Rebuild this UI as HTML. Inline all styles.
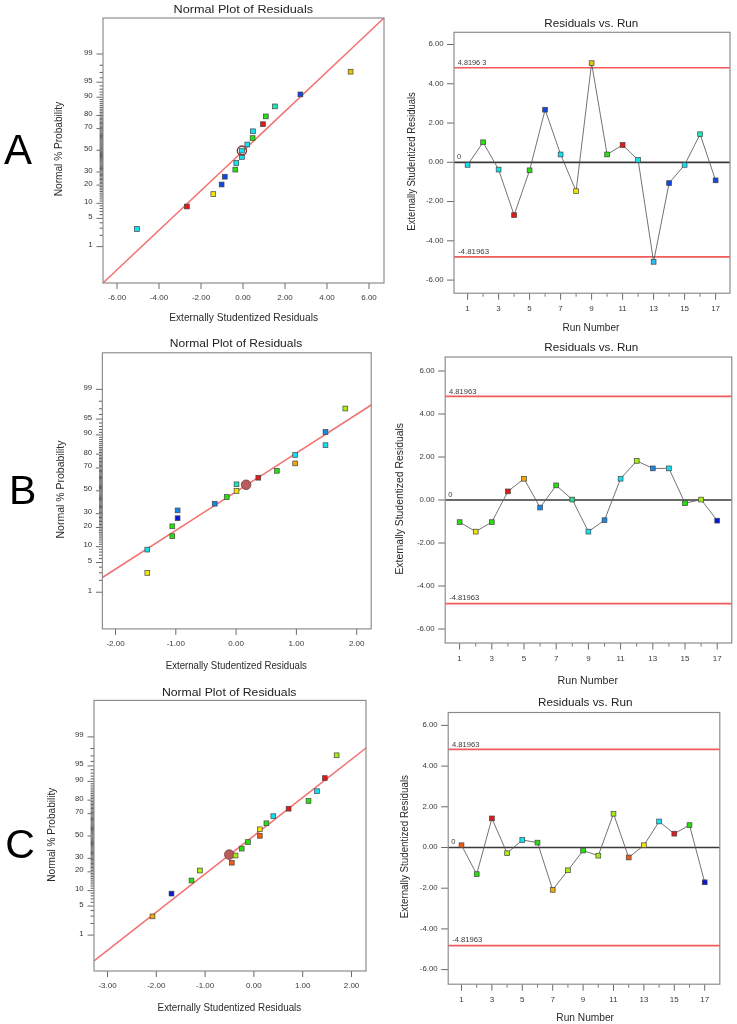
<!DOCTYPE html>
<html><head><meta charset="utf-8"><style>
html,body{margin:0;padding:0;background:#fff;}
svg{display:block;filter:blur(0.5px);}
</style></head><body>
<svg width="737" height="1024" viewBox="0 0 737 1024" font-family="Liberation Sans, sans-serif" style="font-family:'Liberation Sans',sans-serif">
<rect x="0" y="0" width="737" height="1024" fill="#ffffff"/>
<line x1="96.5" y1="246.61" x2="103" y2="246.61" stroke="#6a6a6a" stroke-width="1"/>
<text x="92.7" y="247.1" font-size="7.8" text-anchor="end" fill="#333" >1</text>
<line x1="99.6" y1="235.33" x2="103" y2="235.33" stroke="#4a4a4a" stroke-width="0.9"/>
<line x1="99.6" y1="228.16" x2="103" y2="228.16" stroke="#4a4a4a" stroke-width="0.9"/>
<line x1="99.6" y1="222.78" x2="103" y2="222.78" stroke="#4a4a4a" stroke-width="0.9"/>
<line x1="96.5" y1="218.40" x2="103" y2="218.40" stroke="#6a6a6a" stroke-width="1"/>
<text x="92.7" y="218.9" font-size="7.8" text-anchor="end" fill="#333" >5</text>
<line x1="99.6" y1="214.67" x2="103" y2="214.67" stroke="#4a4a4a" stroke-width="0.9"/>
<line x1="99.6" y1="211.40" x2="103" y2="211.40" stroke="#4a4a4a" stroke-width="0.9"/>
<line x1="99.6" y1="208.47" x2="103" y2="208.47" stroke="#4a4a4a" stroke-width="0.9"/>
<line x1="99.6" y1="205.81" x2="103" y2="205.81" stroke="#4a4a4a" stroke-width="0.9"/>
<line x1="96.5" y1="203.36" x2="103" y2="203.36" stroke="#6a6a6a" stroke-width="1"/>
<text x="92.7" y="203.9" font-size="7.8" text-anchor="end" fill="#333" >10</text>
<line x1="99.6" y1="201.08" x2="103" y2="201.08" stroke="#4a4a4a" stroke-width="0.9"/>
<line x1="99.6" y1="198.94" x2="103" y2="198.94" stroke="#4a4a4a" stroke-width="0.9"/>
<line x1="99.6" y1="196.93" x2="103" y2="196.93" stroke="#4a4a4a" stroke-width="0.9"/>
<line x1="99.6" y1="195.03" x2="103" y2="195.03" stroke="#4a4a4a" stroke-width="0.9"/>
<line x1="99.6" y1="193.21" x2="103" y2="193.21" stroke="#4a4a4a" stroke-width="0.9"/>
<line x1="99.6" y1="191.47" x2="103" y2="191.47" stroke="#4a4a4a" stroke-width="0.9"/>
<line x1="99.6" y1="189.80" x2="103" y2="189.80" stroke="#4a4a4a" stroke-width="0.9"/>
<line x1="99.6" y1="188.20" x2="103" y2="188.20" stroke="#4a4a4a" stroke-width="0.9"/>
<line x1="99.6" y1="186.64" x2="103" y2="186.64" stroke="#4a4a4a" stroke-width="0.9"/>
<line x1="96.5" y1="185.14" x2="103" y2="185.14" stroke="#6a6a6a" stroke-width="1"/>
<text x="92.7" y="185.6" font-size="7.8" text-anchor="end" fill="#333" >20</text>
<line x1="99.6" y1="183.69" x2="103" y2="183.69" stroke="#4a4a4a" stroke-width="0.9"/>
<line x1="99.6" y1="182.27" x2="103" y2="182.27" stroke="#4a4a4a" stroke-width="0.9"/>
<line x1="99.6" y1="180.89" x2="103" y2="180.89" stroke="#4a4a4a" stroke-width="0.9"/>
<line x1="99.6" y1="179.54" x2="103" y2="179.54" stroke="#4a4a4a" stroke-width="0.9"/>
<line x1="99.6" y1="178.22" x2="103" y2="178.22" stroke="#4a4a4a" stroke-width="0.9"/>
<line x1="99.6" y1="176.93" x2="103" y2="176.93" stroke="#4a4a4a" stroke-width="0.9"/>
<line x1="99.6" y1="175.67" x2="103" y2="175.67" stroke="#4a4a4a" stroke-width="0.9"/>
<line x1="99.6" y1="174.43" x2="103" y2="174.43" stroke="#4a4a4a" stroke-width="0.9"/>
<line x1="99.6" y1="173.21" x2="103" y2="173.21" stroke="#4a4a4a" stroke-width="0.9"/>
<line x1="96.5" y1="172.01" x2="103" y2="172.01" stroke="#6a6a6a" stroke-width="1"/>
<text x="92.7" y="172.5" font-size="7.8" text-anchor="end" fill="#333" >30</text>
<line x1="99.6" y1="170.83" x2="103" y2="170.83" stroke="#4a4a4a" stroke-width="0.9"/>
<line x1="99.6" y1="169.66" x2="103" y2="169.66" stroke="#4a4a4a" stroke-width="0.9"/>
<line x1="99.6" y1="168.51" x2="103" y2="168.51" stroke="#4a4a4a" stroke-width="0.9"/>
<line x1="99.6" y1="167.38" x2="103" y2="167.38" stroke="#4a4a4a" stroke-width="0.9"/>
<line x1="99.6" y1="166.25" x2="103" y2="166.25" stroke="#4a4a4a" stroke-width="0.9"/>
<line x1="99.6" y1="165.14" x2="103" y2="165.14" stroke="#4a4a4a" stroke-width="0.9"/>
<line x1="99.6" y1="164.04" x2="103" y2="164.04" stroke="#4a4a4a" stroke-width="0.9"/>
<line x1="99.6" y1="162.95" x2="103" y2="162.95" stroke="#4a4a4a" stroke-width="0.9"/>
<line x1="99.6" y1="161.86" x2="103" y2="161.86" stroke="#4a4a4a" stroke-width="0.9"/>
<line x1="99.6" y1="160.79" x2="103" y2="160.79" stroke="#4a4a4a" stroke-width="0.9"/>
<line x1="99.6" y1="159.72" x2="103" y2="159.72" stroke="#4a4a4a" stroke-width="0.9"/>
<line x1="99.6" y1="158.66" x2="103" y2="158.66" stroke="#4a4a4a" stroke-width="0.9"/>
<line x1="99.6" y1="157.60" x2="103" y2="157.60" stroke="#4a4a4a" stroke-width="0.9"/>
<line x1="99.6" y1="156.55" x2="103" y2="156.55" stroke="#4a4a4a" stroke-width="0.9"/>
<line x1="99.6" y1="155.50" x2="103" y2="155.50" stroke="#4a4a4a" stroke-width="0.9"/>
<line x1="99.6" y1="154.46" x2="103" y2="154.46" stroke="#4a4a4a" stroke-width="0.9"/>
<line x1="99.6" y1="153.42" x2="103" y2="153.42" stroke="#4a4a4a" stroke-width="0.9"/>
<line x1="99.6" y1="152.38" x2="103" y2="152.38" stroke="#4a4a4a" stroke-width="0.9"/>
<line x1="99.6" y1="151.34" x2="103" y2="151.34" stroke="#4a4a4a" stroke-width="0.9"/>
<line x1="96.5" y1="150.30" x2="103" y2="150.30" stroke="#6a6a6a" stroke-width="1"/>
<text x="92.7" y="150.8" font-size="7.8" text-anchor="end" fill="#333" >50</text>
<line x1="99.6" y1="149.26" x2="103" y2="149.26" stroke="#4a4a4a" stroke-width="0.9"/>
<line x1="99.6" y1="148.22" x2="103" y2="148.22" stroke="#4a4a4a" stroke-width="0.9"/>
<line x1="99.6" y1="147.18" x2="103" y2="147.18" stroke="#4a4a4a" stroke-width="0.9"/>
<line x1="99.6" y1="146.14" x2="103" y2="146.14" stroke="#4a4a4a" stroke-width="0.9"/>
<line x1="99.6" y1="145.10" x2="103" y2="145.10" stroke="#4a4a4a" stroke-width="0.9"/>
<line x1="99.6" y1="144.05" x2="103" y2="144.05" stroke="#4a4a4a" stroke-width="0.9"/>
<line x1="99.6" y1="143.00" x2="103" y2="143.00" stroke="#4a4a4a" stroke-width="0.9"/>
<line x1="99.6" y1="141.94" x2="103" y2="141.94" stroke="#4a4a4a" stroke-width="0.9"/>
<line x1="99.6" y1="140.88" x2="103" y2="140.88" stroke="#4a4a4a" stroke-width="0.9"/>
<line x1="99.6" y1="139.81" x2="103" y2="139.81" stroke="#4a4a4a" stroke-width="0.9"/>
<line x1="99.6" y1="138.74" x2="103" y2="138.74" stroke="#4a4a4a" stroke-width="0.9"/>
<line x1="99.6" y1="137.65" x2="103" y2="137.65" stroke="#4a4a4a" stroke-width="0.9"/>
<line x1="99.6" y1="136.56" x2="103" y2="136.56" stroke="#4a4a4a" stroke-width="0.9"/>
<line x1="99.6" y1="135.46" x2="103" y2="135.46" stroke="#4a4a4a" stroke-width="0.9"/>
<line x1="99.6" y1="134.35" x2="103" y2="134.35" stroke="#4a4a4a" stroke-width="0.9"/>
<line x1="99.6" y1="133.22" x2="103" y2="133.22" stroke="#4a4a4a" stroke-width="0.9"/>
<line x1="99.6" y1="132.09" x2="103" y2="132.09" stroke="#4a4a4a" stroke-width="0.9"/>
<line x1="99.6" y1="130.94" x2="103" y2="130.94" stroke="#4a4a4a" stroke-width="0.9"/>
<line x1="99.6" y1="129.77" x2="103" y2="129.77" stroke="#4a4a4a" stroke-width="0.9"/>
<line x1="96.5" y1="128.59" x2="103" y2="128.59" stroke="#6a6a6a" stroke-width="1"/>
<text x="92.7" y="129.1" font-size="7.8" text-anchor="end" fill="#333" >70</text>
<line x1="99.6" y1="127.39" x2="103" y2="127.39" stroke="#4a4a4a" stroke-width="0.9"/>
<line x1="99.6" y1="126.17" x2="103" y2="126.17" stroke="#4a4a4a" stroke-width="0.9"/>
<line x1="99.6" y1="124.93" x2="103" y2="124.93" stroke="#4a4a4a" stroke-width="0.9"/>
<line x1="99.6" y1="123.67" x2="103" y2="123.67" stroke="#4a4a4a" stroke-width="0.9"/>
<line x1="99.6" y1="122.38" x2="103" y2="122.38" stroke="#4a4a4a" stroke-width="0.9"/>
<line x1="99.6" y1="121.06" x2="103" y2="121.06" stroke="#4a4a4a" stroke-width="0.9"/>
<line x1="99.6" y1="119.71" x2="103" y2="119.71" stroke="#4a4a4a" stroke-width="0.9"/>
<line x1="99.6" y1="118.33" x2="103" y2="118.33" stroke="#4a4a4a" stroke-width="0.9"/>
<line x1="99.6" y1="116.91" x2="103" y2="116.91" stroke="#4a4a4a" stroke-width="0.9"/>
<line x1="96.5" y1="115.46" x2="103" y2="115.46" stroke="#6a6a6a" stroke-width="1"/>
<text x="92.7" y="116.0" font-size="7.8" text-anchor="end" fill="#333" >80</text>
<line x1="99.6" y1="113.96" x2="103" y2="113.96" stroke="#4a4a4a" stroke-width="0.9"/>
<line x1="99.6" y1="112.40" x2="103" y2="112.40" stroke="#4a4a4a" stroke-width="0.9"/>
<line x1="99.6" y1="110.80" x2="103" y2="110.80" stroke="#4a4a4a" stroke-width="0.9"/>
<line x1="99.6" y1="109.13" x2="103" y2="109.13" stroke="#4a4a4a" stroke-width="0.9"/>
<line x1="99.6" y1="107.39" x2="103" y2="107.39" stroke="#4a4a4a" stroke-width="0.9"/>
<line x1="99.6" y1="105.57" x2="103" y2="105.57" stroke="#4a4a4a" stroke-width="0.9"/>
<line x1="99.6" y1="103.67" x2="103" y2="103.67" stroke="#4a4a4a" stroke-width="0.9"/>
<line x1="99.6" y1="101.66" x2="103" y2="101.66" stroke="#4a4a4a" stroke-width="0.9"/>
<line x1="99.6" y1="99.52" x2="103" y2="99.52" stroke="#4a4a4a" stroke-width="0.9"/>
<line x1="96.5" y1="97.24" x2="103" y2="97.24" stroke="#6a6a6a" stroke-width="1"/>
<text x="92.7" y="97.7" font-size="7.8" text-anchor="end" fill="#333" >90</text>
<line x1="99.6" y1="94.79" x2="103" y2="94.79" stroke="#4a4a4a" stroke-width="0.9"/>
<line x1="99.6" y1="92.13" x2="103" y2="92.13" stroke="#4a4a4a" stroke-width="0.9"/>
<line x1="99.6" y1="89.20" x2="103" y2="89.20" stroke="#4a4a4a" stroke-width="0.9"/>
<line x1="99.6" y1="85.93" x2="103" y2="85.93" stroke="#4a4a4a" stroke-width="0.9"/>
<line x1="96.5" y1="82.20" x2="103" y2="82.20" stroke="#6a6a6a" stroke-width="1"/>
<text x="92.7" y="82.7" font-size="7.8" text-anchor="end" fill="#333" >95</text>
<line x1="99.6" y1="77.82" x2="103" y2="77.82" stroke="#4a4a4a" stroke-width="0.9"/>
<line x1="99.6" y1="72.44" x2="103" y2="72.44" stroke="#4a4a4a" stroke-width="0.9"/>
<line x1="99.6" y1="65.27" x2="103" y2="65.27" stroke="#4a4a4a" stroke-width="0.9"/>
<line x1="96.5" y1="53.99" x2="103" y2="53.99" stroke="#6a6a6a" stroke-width="1"/>
<text x="92.7" y="54.5" font-size="7.8" text-anchor="end" fill="#333" >99</text>
<line x1="117.0" y1="283" x2="117.0" y2="289" stroke="#6a6a6a" stroke-width="1"/>
<text x="117.0" y="299.8" font-size="8.0" text-anchor="middle" fill="#3a3a3a" >-6.00</text>
<line x1="159.0" y1="283" x2="159.0" y2="289" stroke="#6a6a6a" stroke-width="1"/>
<text x="159.0" y="299.8" font-size="8.0" text-anchor="middle" fill="#3a3a3a" >-4.00</text>
<line x1="201.0" y1="283" x2="201.0" y2="289" stroke="#6a6a6a" stroke-width="1"/>
<text x="201.0" y="299.8" font-size="8.0" text-anchor="middle" fill="#3a3a3a" >-2.00</text>
<line x1="243.0" y1="283" x2="243.0" y2="289" stroke="#6a6a6a" stroke-width="1"/>
<text x="243.0" y="299.8" font-size="8.0" text-anchor="middle" fill="#3a3a3a" >0.00</text>
<line x1="285.0" y1="283" x2="285.0" y2="289" stroke="#6a6a6a" stroke-width="1"/>
<text x="285.0" y="299.8" font-size="8.0" text-anchor="middle" fill="#3a3a3a" >2.00</text>
<line x1="327.0" y1="283" x2="327.0" y2="289" stroke="#6a6a6a" stroke-width="1"/>
<text x="327.0" y="299.8" font-size="8.0" text-anchor="middle" fill="#3a3a3a" >4.00</text>
<line x1="369.0" y1="283" x2="369.0" y2="289" stroke="#6a6a6a" stroke-width="1"/>
<text x="369.0" y="299.8" font-size="8.0" text-anchor="middle" fill="#3a3a3a" >6.00</text>
<svg x="103" y="18" width="281" height="265" viewBox="103 18 281 265" overflow="hidden">
<line x1="103" y1="283" x2="384" y2="18" stroke="#f27272" stroke-width="1.5"/>
</svg>
<rect x="103" y="18" width="281" height="265" fill="none" stroke="#8a8a8a" stroke-width="1.15"/>
<rect x="134.50" y="226.60" width="4.8" height="4.8" fill="#10e0f0" stroke="#444" stroke-width="0.7"/>
<rect x="184.50" y="204.10" width="4.8" height="4.8" fill="#e41818" stroke="#444" stroke-width="0.7"/>
<rect x="210.90" y="191.70" width="4.8" height="4.8" fill="#f2e400" stroke="#444" stroke-width="0.7"/>
<rect x="219.20" y="182.10" width="4.8" height="4.8" fill="#1048e0" stroke="#444" stroke-width="0.7"/>
<rect x="222.40" y="174.30" width="4.8" height="4.8" fill="#1048e0" stroke="#444" stroke-width="0.7"/>
<rect x="232.90" y="167.20" width="4.8" height="4.8" fill="#28e010" stroke="#444" stroke-width="0.7"/>
<rect x="233.90" y="160.60" width="4.8" height="4.8" fill="#10e0f0" stroke="#444" stroke-width="0.7"/>
<rect x="239.50" y="154.50" width="4.8" height="4.8" fill="#10e0f0" stroke="#444" stroke-width="0.7"/>
<rect x="239.50" y="148.20" width="4.8" height="4.8" fill="#10e0f0" stroke="#444" stroke-width="0.7"/>
<rect x="244.90" y="142.10" width="4.8" height="4.8" fill="#10e0f0" stroke="#444" stroke-width="0.7"/>
<rect x="250.20" y="135.70" width="4.8" height="4.8" fill="#28e010" stroke="#444" stroke-width="0.7"/>
<rect x="250.50" y="128.90" width="4.8" height="4.8" fill="#10e0f0" stroke="#444" stroke-width="0.7"/>
<rect x="260.50" y="121.80" width="4.8" height="4.8" fill="#e41818" stroke="#444" stroke-width="0.7"/>
<rect x="263.40" y="114.00" width="4.8" height="4.8" fill="#28e010" stroke="#444" stroke-width="0.7"/>
<rect x="272.50" y="104.00" width="4.8" height="4.8" fill="#20e4b8" stroke="#444" stroke-width="0.7"/>
<rect x="298.00" y="92.00" width="4.8" height="4.8" fill="#1048e0" stroke="#444" stroke-width="0.7"/>
<rect x="348.20" y="69.30" width="4.8" height="4.8" fill="#e8c400" stroke="#444" stroke-width="0.7"/>
<circle cx="241.9" cy="150.6" r="4.6" fill="none" stroke="#7a2a2a" stroke-width="1.3"/>
<text x="173.5" y="13.2" font-size="11.4" text-anchor="start" fill="#222" textLength="139.6" lengthAdjust="spacingAndGlyphs" >Normal Plot of Residuals</text>
<text x="169.2" y="320.7" font-size="10.2" text-anchor="start" fill="#2a2a2a" textLength="148.8" lengthAdjust="spacingAndGlyphs" >Externally Studentized Residuals</text>
<text transform="translate(62.2,196.3) rotate(-90)" x="0" y="0" font-size="10" fill="#2a2a2a" textLength="94.5" lengthAdjust="spacingAndGlyphs">Normal % Probability</text>
<line x1="95.9" y1="592.23" x2="102.4" y2="592.23" stroke="#6a6a6a" stroke-width="1"/>
<text x="92.1" y="592.7" font-size="7.8" text-anchor="end" fill="#333" >1</text>
<line x1="99.0" y1="580.34" x2="102.4" y2="580.34" stroke="#4a4a4a" stroke-width="0.9"/>
<line x1="99.0" y1="572.80" x2="102.4" y2="572.80" stroke="#4a4a4a" stroke-width="0.9"/>
<line x1="99.0" y1="567.13" x2="102.4" y2="567.13" stroke="#4a4a4a" stroke-width="0.9"/>
<line x1="95.9" y1="562.52" x2="102.4" y2="562.52" stroke="#6a6a6a" stroke-width="1"/>
<text x="92.1" y="563.0" font-size="7.8" text-anchor="end" fill="#333" >5</text>
<line x1="99.0" y1="558.59" x2="102.4" y2="558.59" stroke="#4a4a4a" stroke-width="0.9"/>
<line x1="99.0" y1="555.14" x2="102.4" y2="555.14" stroke="#4a4a4a" stroke-width="0.9"/>
<line x1="99.0" y1="552.06" x2="102.4" y2="552.06" stroke="#4a4a4a" stroke-width="0.9"/>
<line x1="99.0" y1="549.26" x2="102.4" y2="549.26" stroke="#4a4a4a" stroke-width="0.9"/>
<line x1="95.9" y1="546.68" x2="102.4" y2="546.68" stroke="#6a6a6a" stroke-width="1"/>
<text x="92.1" y="547.2" font-size="7.8" text-anchor="end" fill="#333" >10</text>
<line x1="99.0" y1="544.28" x2="102.4" y2="544.28" stroke="#4a4a4a" stroke-width="0.9"/>
<line x1="99.0" y1="542.03" x2="102.4" y2="542.03" stroke="#4a4a4a" stroke-width="0.9"/>
<line x1="99.0" y1="539.91" x2="102.4" y2="539.91" stroke="#4a4a4a" stroke-width="0.9"/>
<line x1="99.0" y1="537.90" x2="102.4" y2="537.90" stroke="#4a4a4a" stroke-width="0.9"/>
<line x1="99.0" y1="535.99" x2="102.4" y2="535.99" stroke="#4a4a4a" stroke-width="0.9"/>
<line x1="99.0" y1="534.16" x2="102.4" y2="534.16" stroke="#4a4a4a" stroke-width="0.9"/>
<line x1="99.0" y1="532.40" x2="102.4" y2="532.40" stroke="#4a4a4a" stroke-width="0.9"/>
<line x1="99.0" y1="530.71" x2="102.4" y2="530.71" stroke="#4a4a4a" stroke-width="0.9"/>
<line x1="99.0" y1="529.08" x2="102.4" y2="529.08" stroke="#4a4a4a" stroke-width="0.9"/>
<line x1="95.9" y1="527.49" x2="102.4" y2="527.49" stroke="#6a6a6a" stroke-width="1"/>
<text x="92.1" y="528.0" font-size="7.8" text-anchor="end" fill="#333" >20</text>
<line x1="99.0" y1="525.96" x2="102.4" y2="525.96" stroke="#4a4a4a" stroke-width="0.9"/>
<line x1="99.0" y1="524.47" x2="102.4" y2="524.47" stroke="#4a4a4a" stroke-width="0.9"/>
<line x1="99.0" y1="523.01" x2="102.4" y2="523.01" stroke="#4a4a4a" stroke-width="0.9"/>
<line x1="99.0" y1="521.59" x2="102.4" y2="521.59" stroke="#4a4a4a" stroke-width="0.9"/>
<line x1="99.0" y1="520.21" x2="102.4" y2="520.21" stroke="#4a4a4a" stroke-width="0.9"/>
<line x1="99.0" y1="518.85" x2="102.4" y2="518.85" stroke="#4a4a4a" stroke-width="0.9"/>
<line x1="99.0" y1="517.52" x2="102.4" y2="517.52" stroke="#4a4a4a" stroke-width="0.9"/>
<line x1="99.0" y1="516.21" x2="102.4" y2="516.21" stroke="#4a4a4a" stroke-width="0.9"/>
<line x1="99.0" y1="514.93" x2="102.4" y2="514.93" stroke="#4a4a4a" stroke-width="0.9"/>
<line x1="95.9" y1="513.66" x2="102.4" y2="513.66" stroke="#6a6a6a" stroke-width="1"/>
<text x="92.1" y="514.2" font-size="7.8" text-anchor="end" fill="#333" >30</text>
<line x1="99.0" y1="512.42" x2="102.4" y2="512.42" stroke="#4a4a4a" stroke-width="0.9"/>
<line x1="99.0" y1="511.19" x2="102.4" y2="511.19" stroke="#4a4a4a" stroke-width="0.9"/>
<line x1="99.0" y1="509.98" x2="102.4" y2="509.98" stroke="#4a4a4a" stroke-width="0.9"/>
<line x1="99.0" y1="508.78" x2="102.4" y2="508.78" stroke="#4a4a4a" stroke-width="0.9"/>
<line x1="99.0" y1="507.60" x2="102.4" y2="507.60" stroke="#4a4a4a" stroke-width="0.9"/>
<line x1="99.0" y1="506.43" x2="102.4" y2="506.43" stroke="#4a4a4a" stroke-width="0.9"/>
<line x1="99.0" y1="505.27" x2="102.4" y2="505.27" stroke="#4a4a4a" stroke-width="0.9"/>
<line x1="99.0" y1="504.12" x2="102.4" y2="504.12" stroke="#4a4a4a" stroke-width="0.9"/>
<line x1="99.0" y1="502.98" x2="102.4" y2="502.98" stroke="#4a4a4a" stroke-width="0.9"/>
<line x1="99.0" y1="501.85" x2="102.4" y2="501.85" stroke="#4a4a4a" stroke-width="0.9"/>
<line x1="99.0" y1="500.72" x2="102.4" y2="500.72" stroke="#4a4a4a" stroke-width="0.9"/>
<line x1="99.0" y1="499.60" x2="102.4" y2="499.60" stroke="#4a4a4a" stroke-width="0.9"/>
<line x1="99.0" y1="498.49" x2="102.4" y2="498.49" stroke="#4a4a4a" stroke-width="0.9"/>
<line x1="99.0" y1="497.38" x2="102.4" y2="497.38" stroke="#4a4a4a" stroke-width="0.9"/>
<line x1="99.0" y1="496.28" x2="102.4" y2="496.28" stroke="#4a4a4a" stroke-width="0.9"/>
<line x1="99.0" y1="495.18" x2="102.4" y2="495.18" stroke="#4a4a4a" stroke-width="0.9"/>
<line x1="99.0" y1="494.08" x2="102.4" y2="494.08" stroke="#4a4a4a" stroke-width="0.9"/>
<line x1="99.0" y1="492.99" x2="102.4" y2="492.99" stroke="#4a4a4a" stroke-width="0.9"/>
<line x1="99.0" y1="491.89" x2="102.4" y2="491.89" stroke="#4a4a4a" stroke-width="0.9"/>
<line x1="95.9" y1="490.80" x2="102.4" y2="490.80" stroke="#6a6a6a" stroke-width="1"/>
<text x="92.1" y="491.3" font-size="7.8" text-anchor="end" fill="#333" >50</text>
<line x1="99.0" y1="489.71" x2="102.4" y2="489.71" stroke="#4a4a4a" stroke-width="0.9"/>
<line x1="99.0" y1="488.61" x2="102.4" y2="488.61" stroke="#4a4a4a" stroke-width="0.9"/>
<line x1="99.0" y1="487.52" x2="102.4" y2="487.52" stroke="#4a4a4a" stroke-width="0.9"/>
<line x1="99.0" y1="486.42" x2="102.4" y2="486.42" stroke="#4a4a4a" stroke-width="0.9"/>
<line x1="99.0" y1="485.32" x2="102.4" y2="485.32" stroke="#4a4a4a" stroke-width="0.9"/>
<line x1="99.0" y1="484.22" x2="102.4" y2="484.22" stroke="#4a4a4a" stroke-width="0.9"/>
<line x1="99.0" y1="483.11" x2="102.4" y2="483.11" stroke="#4a4a4a" stroke-width="0.9"/>
<line x1="99.0" y1="482.00" x2="102.4" y2="482.00" stroke="#4a4a4a" stroke-width="0.9"/>
<line x1="99.0" y1="480.88" x2="102.4" y2="480.88" stroke="#4a4a4a" stroke-width="0.9"/>
<line x1="99.0" y1="479.75" x2="102.4" y2="479.75" stroke="#4a4a4a" stroke-width="0.9"/>
<line x1="99.0" y1="478.62" x2="102.4" y2="478.62" stroke="#4a4a4a" stroke-width="0.9"/>
<line x1="99.0" y1="477.48" x2="102.4" y2="477.48" stroke="#4a4a4a" stroke-width="0.9"/>
<line x1="99.0" y1="476.33" x2="102.4" y2="476.33" stroke="#4a4a4a" stroke-width="0.9"/>
<line x1="99.0" y1="475.17" x2="102.4" y2="475.17" stroke="#4a4a4a" stroke-width="0.9"/>
<line x1="99.0" y1="474.00" x2="102.4" y2="474.00" stroke="#4a4a4a" stroke-width="0.9"/>
<line x1="99.0" y1="472.82" x2="102.4" y2="472.82" stroke="#4a4a4a" stroke-width="0.9"/>
<line x1="99.0" y1="471.62" x2="102.4" y2="471.62" stroke="#4a4a4a" stroke-width="0.9"/>
<line x1="99.0" y1="470.41" x2="102.4" y2="470.41" stroke="#4a4a4a" stroke-width="0.9"/>
<line x1="99.0" y1="469.18" x2="102.4" y2="469.18" stroke="#4a4a4a" stroke-width="0.9"/>
<line x1="95.9" y1="467.94" x2="102.4" y2="467.94" stroke="#6a6a6a" stroke-width="1"/>
<text x="92.1" y="468.4" font-size="7.8" text-anchor="end" fill="#333" >70</text>
<line x1="99.0" y1="466.67" x2="102.4" y2="466.67" stroke="#4a4a4a" stroke-width="0.9"/>
<line x1="99.0" y1="465.39" x2="102.4" y2="465.39" stroke="#4a4a4a" stroke-width="0.9"/>
<line x1="99.0" y1="464.08" x2="102.4" y2="464.08" stroke="#4a4a4a" stroke-width="0.9"/>
<line x1="99.0" y1="462.75" x2="102.4" y2="462.75" stroke="#4a4a4a" stroke-width="0.9"/>
<line x1="99.0" y1="461.39" x2="102.4" y2="461.39" stroke="#4a4a4a" stroke-width="0.9"/>
<line x1="99.0" y1="460.01" x2="102.4" y2="460.01" stroke="#4a4a4a" stroke-width="0.9"/>
<line x1="99.0" y1="458.59" x2="102.4" y2="458.59" stroke="#4a4a4a" stroke-width="0.9"/>
<line x1="99.0" y1="457.13" x2="102.4" y2="457.13" stroke="#4a4a4a" stroke-width="0.9"/>
<line x1="99.0" y1="455.64" x2="102.4" y2="455.64" stroke="#4a4a4a" stroke-width="0.9"/>
<line x1="95.9" y1="454.11" x2="102.4" y2="454.11" stroke="#6a6a6a" stroke-width="1"/>
<text x="92.1" y="454.6" font-size="7.8" text-anchor="end" fill="#333" >80</text>
<line x1="99.0" y1="452.52" x2="102.4" y2="452.52" stroke="#4a4a4a" stroke-width="0.9"/>
<line x1="99.0" y1="450.89" x2="102.4" y2="450.89" stroke="#4a4a4a" stroke-width="0.9"/>
<line x1="99.0" y1="449.20" x2="102.4" y2="449.20" stroke="#4a4a4a" stroke-width="0.9"/>
<line x1="99.0" y1="447.44" x2="102.4" y2="447.44" stroke="#4a4a4a" stroke-width="0.9"/>
<line x1="99.0" y1="445.61" x2="102.4" y2="445.61" stroke="#4a4a4a" stroke-width="0.9"/>
<line x1="99.0" y1="443.70" x2="102.4" y2="443.70" stroke="#4a4a4a" stroke-width="0.9"/>
<line x1="99.0" y1="441.69" x2="102.4" y2="441.69" stroke="#4a4a4a" stroke-width="0.9"/>
<line x1="99.0" y1="439.57" x2="102.4" y2="439.57" stroke="#4a4a4a" stroke-width="0.9"/>
<line x1="99.0" y1="437.32" x2="102.4" y2="437.32" stroke="#4a4a4a" stroke-width="0.9"/>
<line x1="95.9" y1="434.92" x2="102.4" y2="434.92" stroke="#6a6a6a" stroke-width="1"/>
<text x="92.1" y="435.4" font-size="7.8" text-anchor="end" fill="#333" >90</text>
<line x1="99.0" y1="432.34" x2="102.4" y2="432.34" stroke="#4a4a4a" stroke-width="0.9"/>
<line x1="99.0" y1="429.54" x2="102.4" y2="429.54" stroke="#4a4a4a" stroke-width="0.9"/>
<line x1="99.0" y1="426.46" x2="102.4" y2="426.46" stroke="#4a4a4a" stroke-width="0.9"/>
<line x1="99.0" y1="423.01" x2="102.4" y2="423.01" stroke="#4a4a4a" stroke-width="0.9"/>
<line x1="95.9" y1="419.08" x2="102.4" y2="419.08" stroke="#6a6a6a" stroke-width="1"/>
<text x="92.1" y="419.6" font-size="7.8" text-anchor="end" fill="#333" >95</text>
<line x1="99.0" y1="414.47" x2="102.4" y2="414.47" stroke="#4a4a4a" stroke-width="0.9"/>
<line x1="99.0" y1="408.80" x2="102.4" y2="408.80" stroke="#4a4a4a" stroke-width="0.9"/>
<line x1="99.0" y1="401.26" x2="102.4" y2="401.26" stroke="#4a4a4a" stroke-width="0.9"/>
<line x1="95.9" y1="389.37" x2="102.4" y2="389.37" stroke="#6a6a6a" stroke-width="1"/>
<text x="92.1" y="389.9" font-size="7.8" text-anchor="end" fill="#333" >99</text>
<line x1="115.5" y1="628.9" x2="115.5" y2="634.9" stroke="#6a6a6a" stroke-width="1"/>
<text x="115.5" y="645.7" font-size="8.0" text-anchor="middle" fill="#3a3a3a" >-2.00</text>
<line x1="175.8" y1="628.9" x2="175.8" y2="634.9" stroke="#6a6a6a" stroke-width="1"/>
<text x="175.8" y="645.7" font-size="8.0" text-anchor="middle" fill="#3a3a3a" >-1.00</text>
<line x1="236.1" y1="628.9" x2="236.1" y2="634.9" stroke="#6a6a6a" stroke-width="1"/>
<text x="236.1" y="645.7" font-size="8.0" text-anchor="middle" fill="#3a3a3a" >0.00</text>
<line x1="296.4" y1="628.9" x2="296.4" y2="634.9" stroke="#6a6a6a" stroke-width="1"/>
<text x="296.4" y="645.7" font-size="8.0" text-anchor="middle" fill="#3a3a3a" >1.00</text>
<line x1="356.7" y1="628.9" x2="356.7" y2="634.9" stroke="#6a6a6a" stroke-width="1"/>
<text x="356.7" y="645.7" font-size="8.0" text-anchor="middle" fill="#3a3a3a" >2.00</text>
<svg x="102.4" y="352.8" width="268.79999999999995" height="276.09999999999997" viewBox="102.4 352.8 268.79999999999995 276.09999999999997" overflow="hidden">
<line x1="102.4" y1="577.5" x2="371.2" y2="405.0" stroke="#f27272" stroke-width="1.5"/>
</svg>
<rect x="102.4" y="352.8" width="268.79999999999995" height="276.09999999999997" fill="none" stroke="#8a8a8a" stroke-width="1.15"/>
<circle cx="246.1" cy="484.8" r="4.8" fill="#b85c5c" stroke="#7a3a3a" stroke-width="0.8"/>
<rect x="144.90" y="570.50" width="4.8" height="4.8" fill="#f2e400" stroke="#444" stroke-width="0.7"/>
<rect x="144.90" y="547.20" width="4.8" height="4.8" fill="#10e0f0" stroke="#444" stroke-width="0.7"/>
<rect x="169.90" y="533.80" width="4.8" height="4.8" fill="#28e010" stroke="#444" stroke-width="0.7"/>
<rect x="169.90" y="523.90" width="4.8" height="4.8" fill="#28e010" stroke="#444" stroke-width="0.7"/>
<rect x="175.20" y="515.80" width="4.8" height="4.8" fill="#0818d8" stroke="#444" stroke-width="0.7"/>
<rect x="175.20" y="508.00" width="4.8" height="4.8" fill="#1888e8" stroke="#444" stroke-width="0.7"/>
<rect x="212.30" y="501.30" width="4.8" height="4.8" fill="#1888e8" stroke="#444" stroke-width="0.7"/>
<rect x="224.30" y="494.60" width="4.8" height="4.8" fill="#28e010" stroke="#444" stroke-width="0.7"/>
<rect x="234.10" y="488.60" width="4.8" height="4.8" fill="#f2e400" stroke="#444" stroke-width="0.7"/>
<rect x="234.10" y="481.90" width="4.8" height="4.8" fill="#20e4b8" stroke="#444" stroke-width="0.7"/>
<rect x="255.90" y="475.30" width="4.8" height="4.8" fill="#e41818" stroke="#444" stroke-width="0.7"/>
<rect x="274.40" y="468.40" width="4.8" height="4.8" fill="#28e010" stroke="#444" stroke-width="0.7"/>
<rect x="292.80" y="461.00" width="4.8" height="4.8" fill="#f0a808" stroke="#444" stroke-width="0.7"/>
<rect x="292.80" y="452.50" width="4.8" height="4.8" fill="#10e0f0" stroke="#444" stroke-width="0.7"/>
<rect x="323.10" y="442.80" width="4.8" height="4.8" fill="#10e0f0" stroke="#444" stroke-width="0.7"/>
<rect x="323.10" y="429.60" width="4.8" height="4.8" fill="#1888e8" stroke="#444" stroke-width="0.7"/>
<rect x="342.90" y="406.10" width="4.8" height="4.8" fill="#a8ec10" stroke="#444" stroke-width="0.7"/>
<text x="169.8" y="347.4" font-size="11.4" text-anchor="start" fill="#222" textLength="132.4" lengthAdjust="spacingAndGlyphs" >Normal Plot of Residuals</text>
<text x="165.7" y="668.9" font-size="10.2" text-anchor="start" fill="#2a2a2a" textLength="141.2" lengthAdjust="spacingAndGlyphs" >Externally Studentized Residuals</text>
<text transform="translate(64.2,538.5) rotate(-90)" x="0" y="0" font-size="10" fill="#2a2a2a" textLength="98.0" lengthAdjust="spacingAndGlyphs">Normal % Probability</text>
<line x1="87.5" y1="935.10" x2="94" y2="935.10" stroke="#6a6a6a" stroke-width="1"/>
<text x="83.7" y="935.6" font-size="7.8" text-anchor="end" fill="#333" >1</text>
<line x1="90.6" y1="923.49" x2="94" y2="923.49" stroke="#4a4a4a" stroke-width="0.9"/>
<line x1="90.6" y1="916.12" x2="94" y2="916.12" stroke="#4a4a4a" stroke-width="0.9"/>
<line x1="90.6" y1="910.58" x2="94" y2="910.58" stroke="#4a4a4a" stroke-width="0.9"/>
<line x1="87.5" y1="906.07" x2="94" y2="906.07" stroke="#6a6a6a" stroke-width="1"/>
<text x="83.7" y="906.6" font-size="7.8" text-anchor="end" fill="#333" >5</text>
<line x1="90.6" y1="902.23" x2="94" y2="902.23" stroke="#4a4a4a" stroke-width="0.9"/>
<line x1="90.6" y1="898.87" x2="94" y2="898.87" stroke="#4a4a4a" stroke-width="0.9"/>
<line x1="90.6" y1="895.86" x2="94" y2="895.86" stroke="#4a4a4a" stroke-width="0.9"/>
<line x1="90.6" y1="893.12" x2="94" y2="893.12" stroke="#4a4a4a" stroke-width="0.9"/>
<line x1="87.5" y1="890.59" x2="94" y2="890.59" stroke="#6a6a6a" stroke-width="1"/>
<text x="83.7" y="891.1" font-size="7.8" text-anchor="end" fill="#333" >10</text>
<line x1="90.6" y1="888.25" x2="94" y2="888.25" stroke="#4a4a4a" stroke-width="0.9"/>
<line x1="90.6" y1="886.05" x2="94" y2="886.05" stroke="#4a4a4a" stroke-width="0.9"/>
<line x1="90.6" y1="883.98" x2="94" y2="883.98" stroke="#4a4a4a" stroke-width="0.9"/>
<line x1="90.6" y1="882.02" x2="94" y2="882.02" stroke="#4a4a4a" stroke-width="0.9"/>
<line x1="90.6" y1="880.15" x2="94" y2="880.15" stroke="#4a4a4a" stroke-width="0.9"/>
<line x1="90.6" y1="878.36" x2="94" y2="878.36" stroke="#4a4a4a" stroke-width="0.9"/>
<line x1="90.6" y1="876.65" x2="94" y2="876.65" stroke="#4a4a4a" stroke-width="0.9"/>
<line x1="90.6" y1="874.99" x2="94" y2="874.99" stroke="#4a4a4a" stroke-width="0.9"/>
<line x1="90.6" y1="873.40" x2="94" y2="873.40" stroke="#4a4a4a" stroke-width="0.9"/>
<line x1="87.5" y1="871.85" x2="94" y2="871.85" stroke="#6a6a6a" stroke-width="1"/>
<text x="83.7" y="872.4" font-size="7.8" text-anchor="end" fill="#333" >20</text>
<line x1="90.6" y1="870.35" x2="94" y2="870.35" stroke="#4a4a4a" stroke-width="0.9"/>
<line x1="90.6" y1="868.90" x2="94" y2="868.90" stroke="#4a4a4a" stroke-width="0.9"/>
<line x1="90.6" y1="867.47" x2="94" y2="867.47" stroke="#4a4a4a" stroke-width="0.9"/>
<line x1="90.6" y1="866.09" x2="94" y2="866.09" stroke="#4a4a4a" stroke-width="0.9"/>
<line x1="90.6" y1="864.73" x2="94" y2="864.73" stroke="#4a4a4a" stroke-width="0.9"/>
<line x1="90.6" y1="863.41" x2="94" y2="863.41" stroke="#4a4a4a" stroke-width="0.9"/>
<line x1="90.6" y1="862.11" x2="94" y2="862.11" stroke="#4a4a4a" stroke-width="0.9"/>
<line x1="90.6" y1="860.83" x2="94" y2="860.83" stroke="#4a4a4a" stroke-width="0.9"/>
<line x1="90.6" y1="859.57" x2="94" y2="859.57" stroke="#4a4a4a" stroke-width="0.9"/>
<line x1="87.5" y1="858.34" x2="94" y2="858.34" stroke="#6a6a6a" stroke-width="1"/>
<text x="83.7" y="858.8" font-size="7.8" text-anchor="end" fill="#333" >30</text>
<line x1="90.6" y1="857.12" x2="94" y2="857.12" stroke="#4a4a4a" stroke-width="0.9"/>
<line x1="90.6" y1="855.92" x2="94" y2="855.92" stroke="#4a4a4a" stroke-width="0.9"/>
<line x1="90.6" y1="854.74" x2="94" y2="854.74" stroke="#4a4a4a" stroke-width="0.9"/>
<line x1="90.6" y1="853.57" x2="94" y2="853.57" stroke="#4a4a4a" stroke-width="0.9"/>
<line x1="90.6" y1="852.41" x2="94" y2="852.41" stroke="#4a4a4a" stroke-width="0.9"/>
<line x1="90.6" y1="851.27" x2="94" y2="851.27" stroke="#4a4a4a" stroke-width="0.9"/>
<line x1="90.6" y1="850.14" x2="94" y2="850.14" stroke="#4a4a4a" stroke-width="0.9"/>
<line x1="90.6" y1="849.01" x2="94" y2="849.01" stroke="#4a4a4a" stroke-width="0.9"/>
<line x1="90.6" y1="847.90" x2="94" y2="847.90" stroke="#4a4a4a" stroke-width="0.9"/>
<line x1="90.6" y1="846.79" x2="94" y2="846.79" stroke="#4a4a4a" stroke-width="0.9"/>
<line x1="90.6" y1="845.69" x2="94" y2="845.69" stroke="#4a4a4a" stroke-width="0.9"/>
<line x1="90.6" y1="844.60" x2="94" y2="844.60" stroke="#4a4a4a" stroke-width="0.9"/>
<line x1="90.6" y1="843.51" x2="94" y2="843.51" stroke="#4a4a4a" stroke-width="0.9"/>
<line x1="90.6" y1="842.43" x2="94" y2="842.43" stroke="#4a4a4a" stroke-width="0.9"/>
<line x1="90.6" y1="841.35" x2="94" y2="841.35" stroke="#4a4a4a" stroke-width="0.9"/>
<line x1="90.6" y1="840.28" x2="94" y2="840.28" stroke="#4a4a4a" stroke-width="0.9"/>
<line x1="90.6" y1="839.21" x2="94" y2="839.21" stroke="#4a4a4a" stroke-width="0.9"/>
<line x1="90.6" y1="838.14" x2="94" y2="838.14" stroke="#4a4a4a" stroke-width="0.9"/>
<line x1="90.6" y1="837.07" x2="94" y2="837.07" stroke="#4a4a4a" stroke-width="0.9"/>
<line x1="87.5" y1="836.00" x2="94" y2="836.00" stroke="#6a6a6a" stroke-width="1"/>
<text x="83.7" y="836.5" font-size="7.8" text-anchor="end" fill="#333" >50</text>
<line x1="90.6" y1="834.93" x2="94" y2="834.93" stroke="#4a4a4a" stroke-width="0.9"/>
<line x1="90.6" y1="833.86" x2="94" y2="833.86" stroke="#4a4a4a" stroke-width="0.9"/>
<line x1="90.6" y1="832.79" x2="94" y2="832.79" stroke="#4a4a4a" stroke-width="0.9"/>
<line x1="90.6" y1="831.72" x2="94" y2="831.72" stroke="#4a4a4a" stroke-width="0.9"/>
<line x1="90.6" y1="830.65" x2="94" y2="830.65" stroke="#4a4a4a" stroke-width="0.9"/>
<line x1="90.6" y1="829.57" x2="94" y2="829.57" stroke="#4a4a4a" stroke-width="0.9"/>
<line x1="90.6" y1="828.49" x2="94" y2="828.49" stroke="#4a4a4a" stroke-width="0.9"/>
<line x1="90.6" y1="827.40" x2="94" y2="827.40" stroke="#4a4a4a" stroke-width="0.9"/>
<line x1="90.6" y1="826.31" x2="94" y2="826.31" stroke="#4a4a4a" stroke-width="0.9"/>
<line x1="90.6" y1="825.21" x2="94" y2="825.21" stroke="#4a4a4a" stroke-width="0.9"/>
<line x1="90.6" y1="824.10" x2="94" y2="824.10" stroke="#4a4a4a" stroke-width="0.9"/>
<line x1="90.6" y1="822.99" x2="94" y2="822.99" stroke="#4a4a4a" stroke-width="0.9"/>
<line x1="90.6" y1="821.86" x2="94" y2="821.86" stroke="#4a4a4a" stroke-width="0.9"/>
<line x1="90.6" y1="820.73" x2="94" y2="820.73" stroke="#4a4a4a" stroke-width="0.9"/>
<line x1="90.6" y1="819.59" x2="94" y2="819.59" stroke="#4a4a4a" stroke-width="0.9"/>
<line x1="90.6" y1="818.43" x2="94" y2="818.43" stroke="#4a4a4a" stroke-width="0.9"/>
<line x1="90.6" y1="817.26" x2="94" y2="817.26" stroke="#4a4a4a" stroke-width="0.9"/>
<line x1="90.6" y1="816.08" x2="94" y2="816.08" stroke="#4a4a4a" stroke-width="0.9"/>
<line x1="90.6" y1="814.88" x2="94" y2="814.88" stroke="#4a4a4a" stroke-width="0.9"/>
<line x1="87.5" y1="813.66" x2="94" y2="813.66" stroke="#6a6a6a" stroke-width="1"/>
<text x="83.7" y="814.2" font-size="7.8" text-anchor="end" fill="#333" >70</text>
<line x1="90.6" y1="812.43" x2="94" y2="812.43" stroke="#4a4a4a" stroke-width="0.9"/>
<line x1="90.6" y1="811.17" x2="94" y2="811.17" stroke="#4a4a4a" stroke-width="0.9"/>
<line x1="90.6" y1="809.89" x2="94" y2="809.89" stroke="#4a4a4a" stroke-width="0.9"/>
<line x1="90.6" y1="808.59" x2="94" y2="808.59" stroke="#4a4a4a" stroke-width="0.9"/>
<line x1="90.6" y1="807.27" x2="94" y2="807.27" stroke="#4a4a4a" stroke-width="0.9"/>
<line x1="90.6" y1="805.91" x2="94" y2="805.91" stroke="#4a4a4a" stroke-width="0.9"/>
<line x1="90.6" y1="804.53" x2="94" y2="804.53" stroke="#4a4a4a" stroke-width="0.9"/>
<line x1="90.6" y1="803.10" x2="94" y2="803.10" stroke="#4a4a4a" stroke-width="0.9"/>
<line x1="90.6" y1="801.65" x2="94" y2="801.65" stroke="#4a4a4a" stroke-width="0.9"/>
<line x1="87.5" y1="800.15" x2="94" y2="800.15" stroke="#6a6a6a" stroke-width="1"/>
<text x="83.7" y="800.6" font-size="7.8" text-anchor="end" fill="#333" >80</text>
<line x1="90.6" y1="798.60" x2="94" y2="798.60" stroke="#4a4a4a" stroke-width="0.9"/>
<line x1="90.6" y1="797.01" x2="94" y2="797.01" stroke="#4a4a4a" stroke-width="0.9"/>
<line x1="90.6" y1="795.35" x2="94" y2="795.35" stroke="#4a4a4a" stroke-width="0.9"/>
<line x1="90.6" y1="793.64" x2="94" y2="793.64" stroke="#4a4a4a" stroke-width="0.9"/>
<line x1="90.6" y1="791.85" x2="94" y2="791.85" stroke="#4a4a4a" stroke-width="0.9"/>
<line x1="90.6" y1="789.98" x2="94" y2="789.98" stroke="#4a4a4a" stroke-width="0.9"/>
<line x1="90.6" y1="788.02" x2="94" y2="788.02" stroke="#4a4a4a" stroke-width="0.9"/>
<line x1="90.6" y1="785.95" x2="94" y2="785.95" stroke="#4a4a4a" stroke-width="0.9"/>
<line x1="90.6" y1="783.75" x2="94" y2="783.75" stroke="#4a4a4a" stroke-width="0.9"/>
<line x1="87.5" y1="781.41" x2="94" y2="781.41" stroke="#6a6a6a" stroke-width="1"/>
<text x="83.7" y="781.9" font-size="7.8" text-anchor="end" fill="#333" >90</text>
<line x1="90.6" y1="778.88" x2="94" y2="778.88" stroke="#4a4a4a" stroke-width="0.9"/>
<line x1="90.6" y1="776.14" x2="94" y2="776.14" stroke="#4a4a4a" stroke-width="0.9"/>
<line x1="90.6" y1="773.13" x2="94" y2="773.13" stroke="#4a4a4a" stroke-width="0.9"/>
<line x1="90.6" y1="769.77" x2="94" y2="769.77" stroke="#4a4a4a" stroke-width="0.9"/>
<line x1="87.5" y1="765.93" x2="94" y2="765.93" stroke="#6a6a6a" stroke-width="1"/>
<text x="83.7" y="766.4" font-size="7.8" text-anchor="end" fill="#333" >95</text>
<line x1="90.6" y1="761.42" x2="94" y2="761.42" stroke="#4a4a4a" stroke-width="0.9"/>
<line x1="90.6" y1="755.88" x2="94" y2="755.88" stroke="#4a4a4a" stroke-width="0.9"/>
<line x1="90.6" y1="748.51" x2="94" y2="748.51" stroke="#4a4a4a" stroke-width="0.9"/>
<line x1="87.5" y1="736.90" x2="94" y2="736.90" stroke="#6a6a6a" stroke-width="1"/>
<text x="83.7" y="737.4" font-size="7.8" text-anchor="end" fill="#333" >99</text>
<line x1="107.5" y1="971" x2="107.5" y2="977" stroke="#6a6a6a" stroke-width="1"/>
<text x="107.5" y="987.8" font-size="8.0" text-anchor="middle" fill="#3a3a3a" >-3.00</text>
<line x1="156.3" y1="971" x2="156.3" y2="977" stroke="#6a6a6a" stroke-width="1"/>
<text x="156.3" y="987.8" font-size="8.0" text-anchor="middle" fill="#3a3a3a" >-2.00</text>
<line x1="205.1" y1="971" x2="205.1" y2="977" stroke="#6a6a6a" stroke-width="1"/>
<text x="205.1" y="987.8" font-size="8.0" text-anchor="middle" fill="#3a3a3a" >-1.00</text>
<line x1="253.9" y1="971" x2="253.9" y2="977" stroke="#6a6a6a" stroke-width="1"/>
<text x="253.9" y="987.8" font-size="8.0" text-anchor="middle" fill="#3a3a3a" >0.00</text>
<line x1="302.7" y1="971" x2="302.7" y2="977" stroke="#6a6a6a" stroke-width="1"/>
<text x="302.7" y="987.8" font-size="8.0" text-anchor="middle" fill="#3a3a3a" >1.00</text>
<line x1="351.5" y1="971" x2="351.5" y2="977" stroke="#6a6a6a" stroke-width="1"/>
<text x="351.5" y="987.8" font-size="8.0" text-anchor="middle" fill="#3a3a3a" >2.00</text>
<svg x="94" y="700.4" width="272" height="270.6" viewBox="94 700.4 272 270.6" overflow="hidden">
<line x1="94" y1="960.8" x2="366" y2="748.0" stroke="#f27272" stroke-width="1.5"/>
</svg>
<rect x="94" y="700.4" width="272" height="270.6" fill="none" stroke="#8a8a8a" stroke-width="1.15"/>
<circle cx="229.3" cy="854.6" r="4.8" fill="#b85c5c" stroke="#7a3a3a" stroke-width="0.8"/>
<rect x="150.10" y="914.00" width="4.8" height="4.8" fill="#f0a808" stroke="#444" stroke-width="0.7"/>
<rect x="169.10" y="891.20" width="4.8" height="4.8" fill="#0818d8" stroke="#444" stroke-width="0.7"/>
<rect x="189.10" y="878.10" width="4.8" height="4.8" fill="#28e010" stroke="#444" stroke-width="0.7"/>
<rect x="197.50" y="868.10" width="4.8" height="4.8" fill="#a8ec10" stroke="#444" stroke-width="0.7"/>
<rect x="229.40" y="860.30" width="4.8" height="4.8" fill="#f05a10" stroke="#444" stroke-width="0.7"/>
<rect x="233.10" y="853.10" width="4.8" height="4.8" fill="#a8ec10" stroke="#444" stroke-width="0.7"/>
<rect x="239.30" y="846.20" width="4.8" height="4.8" fill="#28e010" stroke="#444" stroke-width="0.7"/>
<rect x="245.60" y="839.70" width="4.8" height="4.8" fill="#28e010" stroke="#444" stroke-width="0.7"/>
<rect x="257.40" y="833.40" width="4.8" height="4.8" fill="#f05a10" stroke="#444" stroke-width="0.7"/>
<rect x="257.40" y="826.90" width="4.8" height="4.8" fill="#f2e400" stroke="#444" stroke-width="0.7"/>
<rect x="264.00" y="820.90" width="4.8" height="4.8" fill="#28e010" stroke="#444" stroke-width="0.7"/>
<rect x="270.90" y="813.80" width="4.8" height="4.8" fill="#10e0f0" stroke="#444" stroke-width="0.7"/>
<rect x="286.20" y="806.30" width="4.8" height="4.8" fill="#e41818" stroke="#444" stroke-width="0.7"/>
<rect x="306.10" y="798.50" width="4.8" height="4.8" fill="#28e010" stroke="#444" stroke-width="0.7"/>
<rect x="314.60" y="788.80" width="4.8" height="4.8" fill="#10e0f0" stroke="#444" stroke-width="0.7"/>
<rect x="322.40" y="775.70" width="4.8" height="4.8" fill="#e41818" stroke="#444" stroke-width="0.7"/>
<rect x="334.20" y="752.90" width="4.8" height="4.8" fill="#a8ec10" stroke="#444" stroke-width="0.7"/>
<text x="161.9" y="695.6" font-size="11.4" text-anchor="start" fill="#222" textLength="134.6" lengthAdjust="spacingAndGlyphs" >Normal Plot of Residuals</text>
<text x="157.6" y="1010.8" font-size="10.2" text-anchor="start" fill="#2a2a2a" textLength="143.6" lengthAdjust="spacingAndGlyphs" >Externally Studentized Residuals</text>
<text transform="translate(55.3,881.7) rotate(-90)" x="0" y="0" font-size="10" fill="#2a2a2a" textLength="94.0" lengthAdjust="spacingAndGlyphs">Normal % Probability</text>
<line x1="447.0" y1="44.52" x2="454" y2="44.52" stroke="#6a6a6a" stroke-width="1"/>
<text x="443.7" y="46.2" font-size="7.8" text-anchor="end" fill="#3a3a3a" >6.00</text>
<line x1="447.0" y1="83.78" x2="454" y2="83.78" stroke="#6a6a6a" stroke-width="1"/>
<text x="443.7" y="85.5" font-size="7.8" text-anchor="end" fill="#3a3a3a" >4.00</text>
<line x1="447.0" y1="123.04" x2="454" y2="123.04" stroke="#6a6a6a" stroke-width="1"/>
<text x="443.7" y="124.7" font-size="7.8" text-anchor="end" fill="#3a3a3a" >2.00</text>
<line x1="447.0" y1="162.30" x2="454" y2="162.30" stroke="#6a6a6a" stroke-width="1"/>
<text x="443.7" y="164.0" font-size="7.8" text-anchor="end" fill="#3a3a3a" >0.00</text>
<line x1="447.0" y1="201.56" x2="454" y2="201.56" stroke="#6a6a6a" stroke-width="1"/>
<text x="443.7" y="203.3" font-size="7.8" text-anchor="end" fill="#3a3a3a" >-2.00</text>
<line x1="447.0" y1="240.82" x2="454" y2="240.82" stroke="#6a6a6a" stroke-width="1"/>
<text x="443.7" y="242.5" font-size="7.8" text-anchor="end" fill="#3a3a3a" >-4.00</text>
<line x1="447.0" y1="280.08" x2="454" y2="280.08" stroke="#6a6a6a" stroke-width="1"/>
<text x="443.7" y="281.8" font-size="7.8" text-anchor="end" fill="#3a3a3a" >-6.00</text>
<line x1="467.6" y1="293.2" x2="467.6" y2="299.7" stroke="#6a6a6a" stroke-width="1"/>
<text x="467.6" y="310.9" font-size="8.0" text-anchor="middle" fill="#3a3a3a" >1</text>
<line x1="483.1" y1="293.2" x2="483.1" y2="296.7" stroke="#6a6a6a" stroke-width="0.9"/>
<line x1="498.6" y1="293.2" x2="498.6" y2="299.7" stroke="#6a6a6a" stroke-width="1"/>
<text x="498.6" y="310.9" font-size="8.0" text-anchor="middle" fill="#3a3a3a" >3</text>
<line x1="514.1" y1="293.2" x2="514.1" y2="296.7" stroke="#6a6a6a" stroke-width="0.9"/>
<line x1="529.6" y1="293.2" x2="529.6" y2="299.7" stroke="#6a6a6a" stroke-width="1"/>
<text x="529.6" y="310.9" font-size="8.0" text-anchor="middle" fill="#3a3a3a" >5</text>
<line x1="545.1" y1="293.2" x2="545.1" y2="296.7" stroke="#6a6a6a" stroke-width="0.9"/>
<line x1="560.6" y1="293.2" x2="560.6" y2="299.7" stroke="#6a6a6a" stroke-width="1"/>
<text x="560.6" y="310.9" font-size="8.0" text-anchor="middle" fill="#3a3a3a" >7</text>
<line x1="576.1" y1="293.2" x2="576.1" y2="296.7" stroke="#6a6a6a" stroke-width="0.9"/>
<line x1="591.6" y1="293.2" x2="591.6" y2="299.7" stroke="#6a6a6a" stroke-width="1"/>
<text x="591.6" y="310.9" font-size="8.0" text-anchor="middle" fill="#3a3a3a" >9</text>
<line x1="607.1" y1="293.2" x2="607.1" y2="296.7" stroke="#6a6a6a" stroke-width="0.9"/>
<line x1="622.6" y1="293.2" x2="622.6" y2="299.7" stroke="#6a6a6a" stroke-width="1"/>
<text x="622.6" y="310.9" font-size="8.0" text-anchor="middle" fill="#3a3a3a" >11</text>
<line x1="638.1" y1="293.2" x2="638.1" y2="296.7" stroke="#6a6a6a" stroke-width="0.9"/>
<line x1="653.6" y1="293.2" x2="653.6" y2="299.7" stroke="#6a6a6a" stroke-width="1"/>
<text x="653.6" y="310.9" font-size="8.0" text-anchor="middle" fill="#3a3a3a" >13</text>
<line x1="669.1" y1="293.2" x2="669.1" y2="296.7" stroke="#6a6a6a" stroke-width="0.9"/>
<line x1="684.6" y1="293.2" x2="684.6" y2="299.7" stroke="#6a6a6a" stroke-width="1"/>
<text x="684.6" y="310.9" font-size="8.0" text-anchor="middle" fill="#3a3a3a" >15</text>
<line x1="700.1" y1="293.2" x2="700.1" y2="296.7" stroke="#6a6a6a" stroke-width="0.9"/>
<line x1="715.6" y1="293.2" x2="715.6" y2="299.7" stroke="#6a6a6a" stroke-width="1"/>
<text x="715.6" y="310.9" font-size="8.0" text-anchor="middle" fill="#3a3a3a" >17</text>
<line x1="454" y1="67.69" x2="730" y2="67.69" stroke="#f45a5a" stroke-width="1.6"/>
<line x1="454" y1="256.91" x2="730" y2="256.91" stroke="#f45a5a" stroke-width="1.6"/>
<line x1="454" y1="162.30" x2="730" y2="162.30" stroke="#3a3a3a" stroke-width="1.7"/>
<text x="457.8" y="65.1" font-size="7.6" text-anchor="start" fill="#3a3a3a" textLength="28.5" lengthAdjust="spacingAndGlyphs" >4.8196 3</text>
<text x="458.0" y="253.7" font-size="7.6" text-anchor="start" fill="#3a3a3a" textLength="31.1" lengthAdjust="spacingAndGlyphs" >-4.81963</text>
<text x="457.0" y="159.1" font-size="7.6" text-anchor="start" fill="#3a3a3a" >0</text>
<polyline points="467.6,164.9 483.1,142.3 498.6,169.6 514.1,215.1 529.6,170.3 545.1,109.7 560.6,154.4 576.1,191.2 591.6,63.2 607.1,154.4 622.6,145.0 638.1,159.9 653.6,261.8 669.1,183.1 684.6,164.9 700.1,134.2 715.6,180.4" fill="none" stroke="#5a5a5a" stroke-width="0.85"/>
<rect x="454" y="32.3" width="276" height="260.9" fill="none" stroke="#8a8a8a" stroke-width="1.15"/>
<rect x="465.20" y="162.45" width="4.8" height="4.8" fill="#10e0f0" stroke="#444" stroke-width="0.7"/>
<rect x="480.70" y="139.88" width="4.8" height="4.8" fill="#28e010" stroke="#444" stroke-width="0.7"/>
<rect x="496.20" y="167.16" width="4.8" height="4.8" fill="#10e0f0" stroke="#444" stroke-width="0.7"/>
<rect x="511.70" y="212.70" width="4.8" height="4.8" fill="#e41818" stroke="#444" stroke-width="0.7"/>
<rect x="527.20" y="167.95" width="4.8" height="4.8" fill="#28e010" stroke="#444" stroke-width="0.7"/>
<rect x="542.70" y="107.29" width="4.8" height="4.8" fill="#1048e0" stroke="#444" stroke-width="0.7"/>
<rect x="558.20" y="152.05" width="4.8" height="4.8" fill="#10e0f0" stroke="#444" stroke-width="0.7"/>
<rect x="573.70" y="188.76" width="4.8" height="4.8" fill="#f2e400" stroke="#444" stroke-width="0.7"/>
<rect x="589.20" y="60.77" width="4.8" height="4.8" fill="#e8c400" stroke="#444" stroke-width="0.7"/>
<rect x="604.70" y="152.05" width="4.8" height="4.8" fill="#28e010" stroke="#444" stroke-width="0.7"/>
<rect x="620.20" y="142.63" width="4.8" height="4.8" fill="#e41818" stroke="#444" stroke-width="0.7"/>
<rect x="635.70" y="157.54" width="4.8" height="4.8" fill="#10e0f0" stroke="#444" stroke-width="0.7"/>
<rect x="651.20" y="259.42" width="4.8" height="4.8" fill="#28c0f0" stroke="#444" stroke-width="0.7"/>
<rect x="666.70" y="180.71" width="4.8" height="4.8" fill="#1048e0" stroke="#444" stroke-width="0.7"/>
<rect x="682.20" y="162.45" width="4.8" height="4.8" fill="#10e0f0" stroke="#444" stroke-width="0.7"/>
<rect x="697.70" y="131.83" width="4.8" height="4.8" fill="#20e4b8" stroke="#444" stroke-width="0.7"/>
<rect x="713.20" y="177.96" width="4.8" height="4.8" fill="#1048e0" stroke="#444" stroke-width="0.7"/>
<text x="544.3" y="27.0" font-size="11.4" text-anchor="start" fill="#222" textLength="94.0" lengthAdjust="spacingAndGlyphs" >Residuals vs. Run</text>
<text x="562.4" y="330.6" font-size="10.2" text-anchor="start" fill="#2a2a2a" textLength="57.0" lengthAdjust="spacingAndGlyphs" >Run Number</text>
<text transform="translate(414.8,230.7) rotate(-90)" x="0" y="0" font-size="10" fill="#2a2a2a" textLength="138.5" lengthAdjust="spacingAndGlyphs">Externally Studentized Residuals</text>
<line x1="438.2" y1="371.00" x2="445.2" y2="371.00" stroke="#6a6a6a" stroke-width="1"/>
<text x="434.7" y="372.7" font-size="7.8" text-anchor="end" fill="#3a3a3a" >6.00</text>
<line x1="438.2" y1="414.00" x2="445.2" y2="414.00" stroke="#6a6a6a" stroke-width="1"/>
<text x="434.7" y="415.7" font-size="7.8" text-anchor="end" fill="#3a3a3a" >4.00</text>
<line x1="438.2" y1="457.00" x2="445.2" y2="457.00" stroke="#6a6a6a" stroke-width="1"/>
<text x="434.7" y="458.7" font-size="7.8" text-anchor="end" fill="#3a3a3a" >2.00</text>
<line x1="438.2" y1="500.00" x2="445.2" y2="500.00" stroke="#6a6a6a" stroke-width="1"/>
<text x="434.7" y="501.7" font-size="7.8" text-anchor="end" fill="#3a3a3a" >0.00</text>
<line x1="438.2" y1="543.00" x2="445.2" y2="543.00" stroke="#6a6a6a" stroke-width="1"/>
<text x="434.7" y="544.7" font-size="7.8" text-anchor="end" fill="#3a3a3a" >-2.00</text>
<line x1="438.2" y1="586.00" x2="445.2" y2="586.00" stroke="#6a6a6a" stroke-width="1"/>
<text x="434.7" y="587.7" font-size="7.8" text-anchor="end" fill="#3a3a3a" >-4.00</text>
<line x1="438.2" y1="629.00" x2="445.2" y2="629.00" stroke="#6a6a6a" stroke-width="1"/>
<text x="434.7" y="630.7" font-size="7.8" text-anchor="end" fill="#3a3a3a" >-6.00</text>
<line x1="459.6" y1="643" x2="459.6" y2="649.5" stroke="#6a6a6a" stroke-width="1"/>
<text x="459.6" y="660.7" font-size="8.0" text-anchor="middle" fill="#3a3a3a" >1</text>
<line x1="475.7" y1="643" x2="475.7" y2="646.5" stroke="#6a6a6a" stroke-width="0.9"/>
<line x1="491.8" y1="643" x2="491.8" y2="649.5" stroke="#6a6a6a" stroke-width="1"/>
<text x="491.8" y="660.7" font-size="8.0" text-anchor="middle" fill="#3a3a3a" >3</text>
<line x1="507.9" y1="643" x2="507.9" y2="646.5" stroke="#6a6a6a" stroke-width="0.9"/>
<line x1="524.0" y1="643" x2="524.0" y2="649.5" stroke="#6a6a6a" stroke-width="1"/>
<text x="524.0" y="660.7" font-size="8.0" text-anchor="middle" fill="#3a3a3a" >5</text>
<line x1="540.1" y1="643" x2="540.1" y2="646.5" stroke="#6a6a6a" stroke-width="0.9"/>
<line x1="556.2" y1="643" x2="556.2" y2="649.5" stroke="#6a6a6a" stroke-width="1"/>
<text x="556.2" y="660.7" font-size="8.0" text-anchor="middle" fill="#3a3a3a" >7</text>
<line x1="572.3" y1="643" x2="572.3" y2="646.5" stroke="#6a6a6a" stroke-width="0.9"/>
<line x1="588.4" y1="643" x2="588.4" y2="649.5" stroke="#6a6a6a" stroke-width="1"/>
<text x="588.4" y="660.7" font-size="8.0" text-anchor="middle" fill="#3a3a3a" >9</text>
<line x1="604.5" y1="643" x2="604.5" y2="646.5" stroke="#6a6a6a" stroke-width="0.9"/>
<line x1="620.6" y1="643" x2="620.6" y2="649.5" stroke="#6a6a6a" stroke-width="1"/>
<text x="620.6" y="660.7" font-size="8.0" text-anchor="middle" fill="#3a3a3a" >11</text>
<line x1="636.7" y1="643" x2="636.7" y2="646.5" stroke="#6a6a6a" stroke-width="0.9"/>
<line x1="652.8" y1="643" x2="652.8" y2="649.5" stroke="#6a6a6a" stroke-width="1"/>
<text x="652.8" y="660.7" font-size="8.0" text-anchor="middle" fill="#3a3a3a" >13</text>
<line x1="668.9" y1="643" x2="668.9" y2="646.5" stroke="#6a6a6a" stroke-width="0.9"/>
<line x1="685.0" y1="643" x2="685.0" y2="649.5" stroke="#6a6a6a" stroke-width="1"/>
<text x="685.0" y="660.7" font-size="8.0" text-anchor="middle" fill="#3a3a3a" >15</text>
<line x1="701.1" y1="643" x2="701.1" y2="646.5" stroke="#6a6a6a" stroke-width="0.9"/>
<line x1="717.2" y1="643" x2="717.2" y2="649.5" stroke="#6a6a6a" stroke-width="1"/>
<text x="717.2" y="660.7" font-size="8.0" text-anchor="middle" fill="#3a3a3a" >17</text>
<line x1="445.2" y1="396.38" x2="731.8" y2="396.38" stroke="#f45a5a" stroke-width="1.6"/>
<line x1="445.2" y1="603.62" x2="731.8" y2="603.62" stroke="#f45a5a" stroke-width="1.6"/>
<line x1="445.2" y1="500.00" x2="731.8" y2="500.00" stroke="#3a3a3a" stroke-width="1.7"/>
<text x="449.0" y="393.8" font-size="7.6" text-anchor="start" fill="#3a3a3a" textLength="27.5" lengthAdjust="spacingAndGlyphs" >4.81963</text>
<text x="449.2" y="600.4" font-size="7.6" text-anchor="start" fill="#3a3a3a" textLength="30.1" lengthAdjust="spacingAndGlyphs" >-4.81963</text>
<text x="448.2" y="496.8" font-size="7.6" text-anchor="start" fill="#3a3a3a" >0</text>
<polyline points="459.6,522.1 475.7,531.6 491.8,522.1 507.9,491.4 524.0,478.7 540.1,507.5 556.2,485.4 572.3,499.6 588.4,531.6 604.5,520.2 620.6,478.7 636.7,460.9 652.8,468.4 668.9,468.4 685.0,503.2 701.1,499.6 717.2,520.6" fill="none" stroke="#5a5a5a" stroke-width="0.85"/>
<rect x="445.2" y="357" width="286.59999999999997" height="286" fill="none" stroke="#8a8a8a" stroke-width="1.15"/>
<rect x="457.20" y="519.75" width="4.8" height="4.8" fill="#28e010" stroke="#444" stroke-width="0.7"/>
<rect x="473.30" y="529.21" width="4.8" height="4.8" fill="#f2e400" stroke="#444" stroke-width="0.7"/>
<rect x="489.40" y="519.75" width="4.8" height="4.8" fill="#28e010" stroke="#444" stroke-width="0.7"/>
<rect x="505.50" y="489.00" width="4.8" height="4.8" fill="#e41818" stroke="#444" stroke-width="0.7"/>
<rect x="521.60" y="476.31" width="4.8" height="4.8" fill="#f0a808" stroke="#444" stroke-width="0.7"/>
<rect x="537.70" y="505.12" width="4.8" height="4.8" fill="#1888e8" stroke="#444" stroke-width="0.7"/>
<rect x="553.80" y="482.98" width="4.8" height="4.8" fill="#28e010" stroke="#444" stroke-width="0.7"/>
<rect x="569.90" y="497.17" width="4.8" height="4.8" fill="#30d890" stroke="#444" stroke-width="0.7"/>
<rect x="586.00" y="529.21" width="4.8" height="4.8" fill="#10e0f0" stroke="#444" stroke-width="0.7"/>
<rect x="602.10" y="517.81" width="4.8" height="4.8" fill="#1888e8" stroke="#444" stroke-width="0.7"/>
<rect x="618.20" y="476.31" width="4.8" height="4.8" fill="#10e0f0" stroke="#444" stroke-width="0.7"/>
<rect x="634.30" y="458.47" width="4.8" height="4.8" fill="#a8ec10" stroke="#444" stroke-width="0.7"/>
<rect x="650.40" y="466.00" width="4.8" height="4.8" fill="#1888e8" stroke="#444" stroke-width="0.7"/>
<rect x="666.50" y="466.00" width="4.8" height="4.8" fill="#10e0f0" stroke="#444" stroke-width="0.7"/>
<rect x="682.60" y="500.83" width="4.8" height="4.8" fill="#28e010" stroke="#444" stroke-width="0.7"/>
<rect x="698.70" y="497.17" width="4.8" height="4.8" fill="#a8ec10" stroke="#444" stroke-width="0.7"/>
<rect x="714.80" y="518.24" width="4.8" height="4.8" fill="#0818d8" stroke="#444" stroke-width="0.7"/>
<text x="544.3" y="351.3" font-size="11.4" text-anchor="start" fill="#222" textLength="94.0" lengthAdjust="spacingAndGlyphs" >Residuals vs. Run</text>
<text x="557.6" y="684.0" font-size="10.2" text-anchor="start" fill="#2a2a2a" textLength="60.4" lengthAdjust="spacingAndGlyphs" >Run Number</text>
<text transform="translate(403.0,574.6) rotate(-90)" x="0" y="0" font-size="10" fill="#2a2a2a" textLength="151.6" lengthAdjust="spacingAndGlyphs">Externally Studentized Residuals</text>
<line x1="441.2" y1="725.40" x2="448.2" y2="725.40" stroke="#6a6a6a" stroke-width="1"/>
<text x="437.6" y="727.1" font-size="7.8" text-anchor="end" fill="#3a3a3a" >6.00</text>
<line x1="441.2" y1="766.10" x2="448.2" y2="766.10" stroke="#6a6a6a" stroke-width="1"/>
<text x="437.6" y="767.8" font-size="7.8" text-anchor="end" fill="#3a3a3a" >4.00</text>
<line x1="441.2" y1="806.80" x2="448.2" y2="806.80" stroke="#6a6a6a" stroke-width="1"/>
<text x="437.6" y="808.5" font-size="7.8" text-anchor="end" fill="#3a3a3a" >2.00</text>
<line x1="441.2" y1="847.50" x2="448.2" y2="847.50" stroke="#6a6a6a" stroke-width="1"/>
<text x="437.6" y="849.2" font-size="7.8" text-anchor="end" fill="#3a3a3a" >0.00</text>
<line x1="441.2" y1="888.20" x2="448.2" y2="888.20" stroke="#6a6a6a" stroke-width="1"/>
<text x="437.6" y="889.9" font-size="7.8" text-anchor="end" fill="#3a3a3a" >-2.00</text>
<line x1="441.2" y1="928.90" x2="448.2" y2="928.90" stroke="#6a6a6a" stroke-width="1"/>
<text x="437.6" y="930.6" font-size="7.8" text-anchor="end" fill="#3a3a3a" >-4.00</text>
<line x1="441.2" y1="969.60" x2="448.2" y2="969.60" stroke="#6a6a6a" stroke-width="1"/>
<text x="437.6" y="971.3" font-size="7.8" text-anchor="end" fill="#3a3a3a" >-6.00</text>
<line x1="461.5" y1="984.2" x2="461.5" y2="990.7" stroke="#6a6a6a" stroke-width="1"/>
<text x="461.5" y="1001.9" font-size="8.0" text-anchor="middle" fill="#3a3a3a" >1</text>
<line x1="476.7" y1="984.2" x2="476.7" y2="987.7" stroke="#6a6a6a" stroke-width="0.9"/>
<line x1="491.9" y1="984.2" x2="491.9" y2="990.7" stroke="#6a6a6a" stroke-width="1"/>
<text x="491.9" y="1001.9" font-size="8.0" text-anchor="middle" fill="#3a3a3a" >3</text>
<line x1="507.1" y1="984.2" x2="507.1" y2="987.7" stroke="#6a6a6a" stroke-width="0.9"/>
<line x1="522.3" y1="984.2" x2="522.3" y2="990.7" stroke="#6a6a6a" stroke-width="1"/>
<text x="522.3" y="1001.9" font-size="8.0" text-anchor="middle" fill="#3a3a3a" >5</text>
<line x1="537.5" y1="984.2" x2="537.5" y2="987.7" stroke="#6a6a6a" stroke-width="0.9"/>
<line x1="552.7" y1="984.2" x2="552.7" y2="990.7" stroke="#6a6a6a" stroke-width="1"/>
<text x="552.7" y="1001.9" font-size="8.0" text-anchor="middle" fill="#3a3a3a" >7</text>
<line x1="567.9" y1="984.2" x2="567.9" y2="987.7" stroke="#6a6a6a" stroke-width="0.9"/>
<line x1="583.1" y1="984.2" x2="583.1" y2="990.7" stroke="#6a6a6a" stroke-width="1"/>
<text x="583.1" y="1001.9" font-size="8.0" text-anchor="middle" fill="#3a3a3a" >9</text>
<line x1="598.3" y1="984.2" x2="598.3" y2="987.7" stroke="#6a6a6a" stroke-width="0.9"/>
<line x1="613.5" y1="984.2" x2="613.5" y2="990.7" stroke="#6a6a6a" stroke-width="1"/>
<text x="613.5" y="1001.9" font-size="8.0" text-anchor="middle" fill="#3a3a3a" >11</text>
<line x1="628.7" y1="984.2" x2="628.7" y2="987.7" stroke="#6a6a6a" stroke-width="0.9"/>
<line x1="643.9" y1="984.2" x2="643.9" y2="990.7" stroke="#6a6a6a" stroke-width="1"/>
<text x="643.9" y="1001.9" font-size="8.0" text-anchor="middle" fill="#3a3a3a" >13</text>
<line x1="659.1" y1="984.2" x2="659.1" y2="987.7" stroke="#6a6a6a" stroke-width="0.9"/>
<line x1="674.3" y1="984.2" x2="674.3" y2="990.7" stroke="#6a6a6a" stroke-width="1"/>
<text x="674.3" y="1001.9" font-size="8.0" text-anchor="middle" fill="#3a3a3a" >15</text>
<line x1="689.5" y1="984.2" x2="689.5" y2="987.7" stroke="#6a6a6a" stroke-width="0.9"/>
<line x1="704.7" y1="984.2" x2="704.7" y2="990.7" stroke="#6a6a6a" stroke-width="1"/>
<text x="704.7" y="1001.9" font-size="8.0" text-anchor="middle" fill="#3a3a3a" >17</text>
<line x1="448.2" y1="749.42" x2="719.8" y2="749.42" stroke="#f45a5a" stroke-width="1.6"/>
<line x1="448.2" y1="945.58" x2="719.8" y2="945.58" stroke="#f45a5a" stroke-width="1.6"/>
<line x1="448.2" y1="847.50" x2="719.8" y2="847.50" stroke="#3a3a3a" stroke-width="1.7"/>
<text x="452.0" y="746.8" font-size="7.6" text-anchor="start" fill="#3a3a3a" textLength="27.5" lengthAdjust="spacingAndGlyphs" >4.81963</text>
<text x="452.2" y="942.4" font-size="7.6" text-anchor="start" fill="#3a3a3a" textLength="30.1" lengthAdjust="spacingAndGlyphs" >-4.81963</text>
<text x="451.2" y="844.3" font-size="7.6" text-anchor="start" fill="#3a3a3a" >0</text>
<polyline points="461.5,845.3 476.7,874.2 491.9,818.4 507.1,853.2 522.3,840.0 537.5,842.6 552.7,889.8 567.9,870.3 583.1,850.6 598.3,855.6 613.5,813.7 628.7,857.5 643.9,845.3 659.1,821.5 674.3,833.7 689.5,825.1 704.7,882.3" fill="none" stroke="#5a5a5a" stroke-width="0.85"/>
<rect x="448.2" y="712.5" width="271.59999999999997" height="271.70000000000005" fill="none" stroke="#8a8a8a" stroke-width="1.15"/>
<rect x="459.10" y="842.86" width="4.8" height="4.8" fill="#f05a10" stroke="#444" stroke-width="0.7"/>
<rect x="474.30" y="871.76" width="4.8" height="4.8" fill="#28e010" stroke="#444" stroke-width="0.7"/>
<rect x="489.50" y="816.00" width="4.8" height="4.8" fill="#e41818" stroke="#444" stroke-width="0.7"/>
<rect x="504.70" y="850.80" width="4.8" height="4.8" fill="#a8ec10" stroke="#444" stroke-width="0.7"/>
<rect x="519.90" y="837.57" width="4.8" height="4.8" fill="#10e0f0" stroke="#444" stroke-width="0.7"/>
<rect x="535.10" y="840.22" width="4.8" height="4.8" fill="#28e010" stroke="#444" stroke-width="0.7"/>
<rect x="550.30" y="887.43" width="4.8" height="4.8" fill="#f0a808" stroke="#444" stroke-width="0.7"/>
<rect x="565.50" y="867.89" width="4.8" height="4.8" fill="#a8ec10" stroke="#444" stroke-width="0.7"/>
<rect x="580.70" y="848.15" width="4.8" height="4.8" fill="#28e010" stroke="#444" stroke-width="0.7"/>
<rect x="595.90" y="853.24" width="4.8" height="4.8" fill="#a8ec10" stroke="#444" stroke-width="0.7"/>
<rect x="611.10" y="811.32" width="4.8" height="4.8" fill="#a8ec10" stroke="#444" stroke-width="0.7"/>
<rect x="626.30" y="855.07" width="4.8" height="4.8" fill="#f05a10" stroke="#444" stroke-width="0.7"/>
<rect x="641.50" y="842.86" width="4.8" height="4.8" fill="#f2e400" stroke="#444" stroke-width="0.7"/>
<rect x="656.70" y="819.05" width="4.8" height="4.8" fill="#10e0f0" stroke="#444" stroke-width="0.7"/>
<rect x="671.90" y="831.26" width="4.8" height="4.8" fill="#e41818" stroke="#444" stroke-width="0.7"/>
<rect x="687.10" y="822.72" width="4.8" height="4.8" fill="#28e010" stroke="#444" stroke-width="0.7"/>
<rect x="702.30" y="879.90" width="4.8" height="4.8" fill="#0818d8" stroke="#444" stroke-width="0.7"/>
<text x="538.0" y="706.1" font-size="11.4" text-anchor="start" fill="#222" textLength="94.5" lengthAdjust="spacingAndGlyphs" >Residuals vs. Run</text>
<text x="556.3" y="1020.6" font-size="10.2" text-anchor="start" fill="#2a2a2a" textLength="57.7" lengthAdjust="spacingAndGlyphs" >Run Number</text>
<text transform="translate(407.8,918.2) rotate(-90)" x="0" y="0" font-size="10" fill="#2a2a2a" textLength="143.2" lengthAdjust="spacingAndGlyphs">Externally Studentized Residuals</text>
<text x="4.0" y="164.2" font-size="42" text-anchor="start" fill="#000" >A</text>
<text x="9.0" y="504.0" font-size="41" text-anchor="start" fill="#000" >B</text>
<text x="5.2" y="857.8" font-size="41" text-anchor="start" fill="#000" >C</text>
</svg>
</body></html>
